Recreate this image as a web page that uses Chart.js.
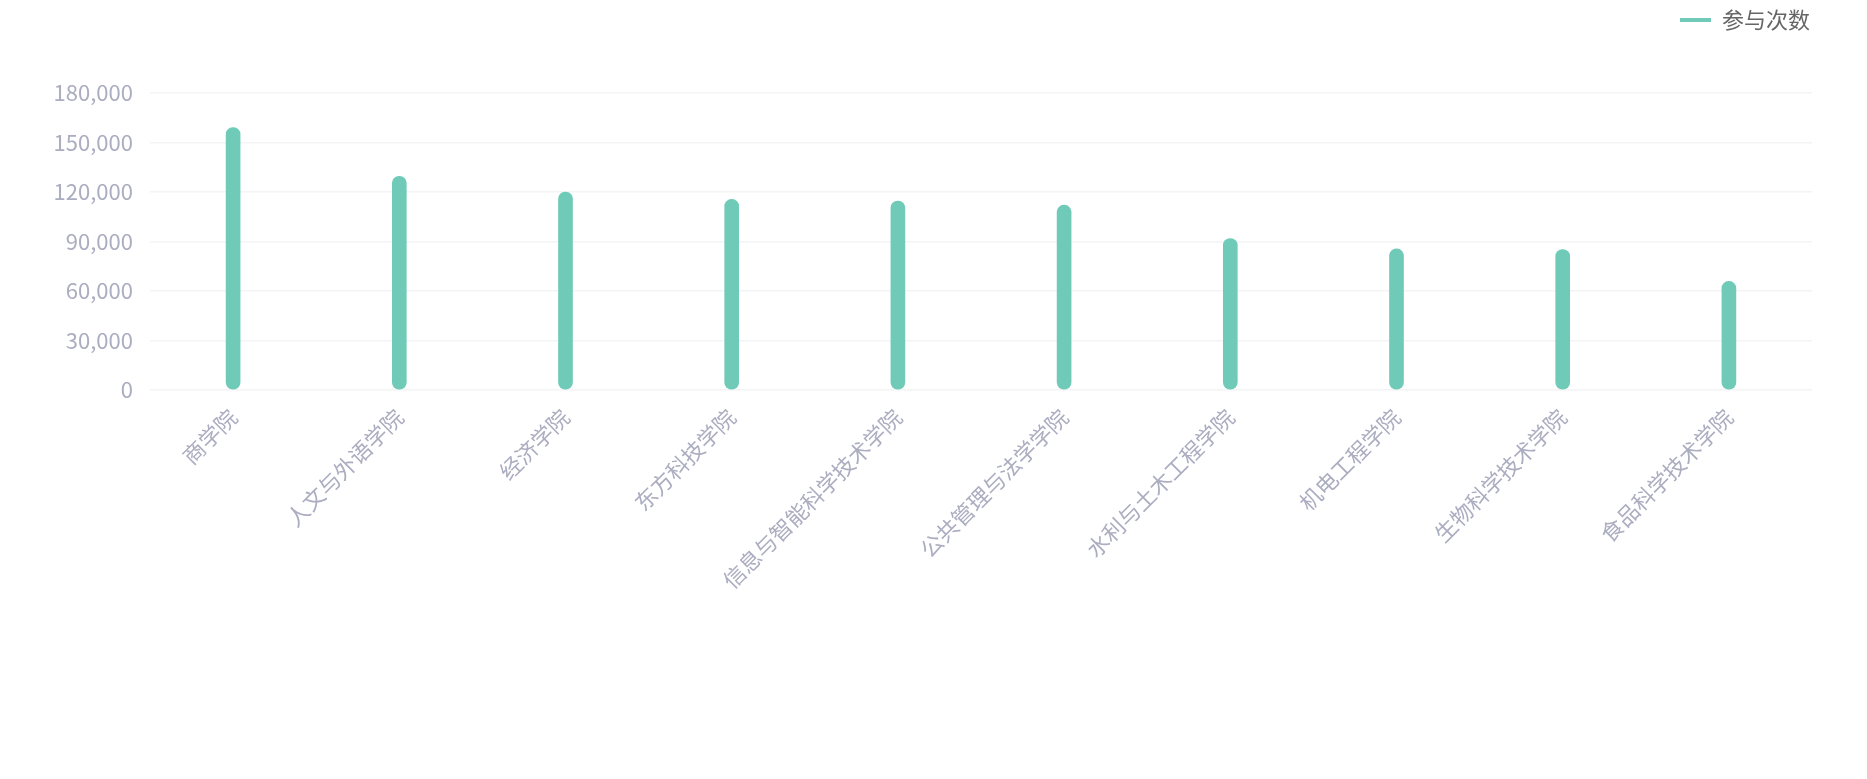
<!DOCTYPE html>
<html lang="zh-CN">
<head>
<meta charset="utf-8">
<title>参与次数</title>
<script src="https://cdn.jsdelivr.net/npm/chart.js@4.4.1/dist/chart.umd.min.js"></script>
<style>
  html, body { margin: 0; padding: 0; background: #ffffff; }
  #wrap { width: 1867px; height: 779px; position: relative; }
</style>
</head>
<body>
<div id="wrap"><canvas id="participationChart"></canvas></div>
<script>
// ============================================================
// 各学院参与次数 — 细柱状图 (圆角)
// ============================================================

const colleges = [
  '商学院', '人文与外语学院', '经济学院', '东方科技学院', '信息与智能科学技术学院',
  '公共管理与法学学院', '水利与土木工程学院', '机电工程学院', '生物科学技术学院', '食品科学技术学院'
];
const participationCounts = [159000, 129500, 120000, 115500, 114500, 112000, 91800, 85500, 85100, 65800];
const yTicks = [0, 30000, 60000, 90000, 120000, 150000, 180000];

const teal = '#6fcbb8';
const labelColor = '#abadc0';
const legendColor = '#666666';
const gridColor = '#f3f4f6';

Chart.defaults.font.family = "'Noto Sans CJK SC', 'Noto Sans', sans-serif";
Chart.defaults.font.size = 22;

// legend 下方多留一点空白
const legendSpacer = {
  id: 'legendSpacer',
  beforeInit(chart) {
    const fit = chart.legend.fit;
    chart.legend.fit = function () {
      fit.call(this);
      this.height += 52;
    };
  }
};

new Chart(document.getElementById('participationChart'), {
  type: 'bar',
  data: {
    labels: colleges,
    datasets: [{
      label: '参与次数',
      data: participationCounts,
      backgroundColor: teal,
      borderColor: teal,
      barThickness: 14,
      borderRadius: 7,
      borderSkipped: false
    }]
  },
  options: {
    responsive: true,
    maintainAspectRatio: false,
    animation: false,
    layout: { padding: { left: 0, right: 55, top: 7, bottom: 0 } },
    plugins: {
      tooltip: { enabled: false },
      legend: {
        position: 'top',
        align: 'end',
        labels: {
          color: legendColor,
          usePointStyle: true,
          pointStyle: 'line',
          pointStyleWidth: 31,
          padding: 2,
          generateLabels(chart) {
            const items = Chart.defaults.plugins.legend.labels.generateLabels(chart);
            items.forEach((it) => {
              it.lineWidth = 4;
              it.strokeStyle = teal;
              it.pointStyle = 'line';
            });
            return items;
          }
        }
      }
    },
    scales: {
      x: {
        grid: { display: false },
        border: { display: false },
        ticks: {
          color: labelColor,
          autoSkip: false,
          minRotation: 45,
          maxRotation: 45,
          padding: 6
        },
        afterFit(scale) { scale.height = 389; }
      },
      y: {
        min: 0,
        max: 180000,
        grid: { color: gridColor, drawTicks: false, lineWidth: 1.5 },
        border: { display: false },
        afterBuildTicks(scale) { scale.ticks = yTicks.map((v) => ({ value: v })); },
        ticks: {
          color: labelColor,
          padding: 17,
          callback: (v) => v.toLocaleString('en-US')
        },
        afterFit(scale) { scale.width = 150; }
      }
    }
  },
  plugins: [legendSpacer]
});
</script>
</body>
</html>
